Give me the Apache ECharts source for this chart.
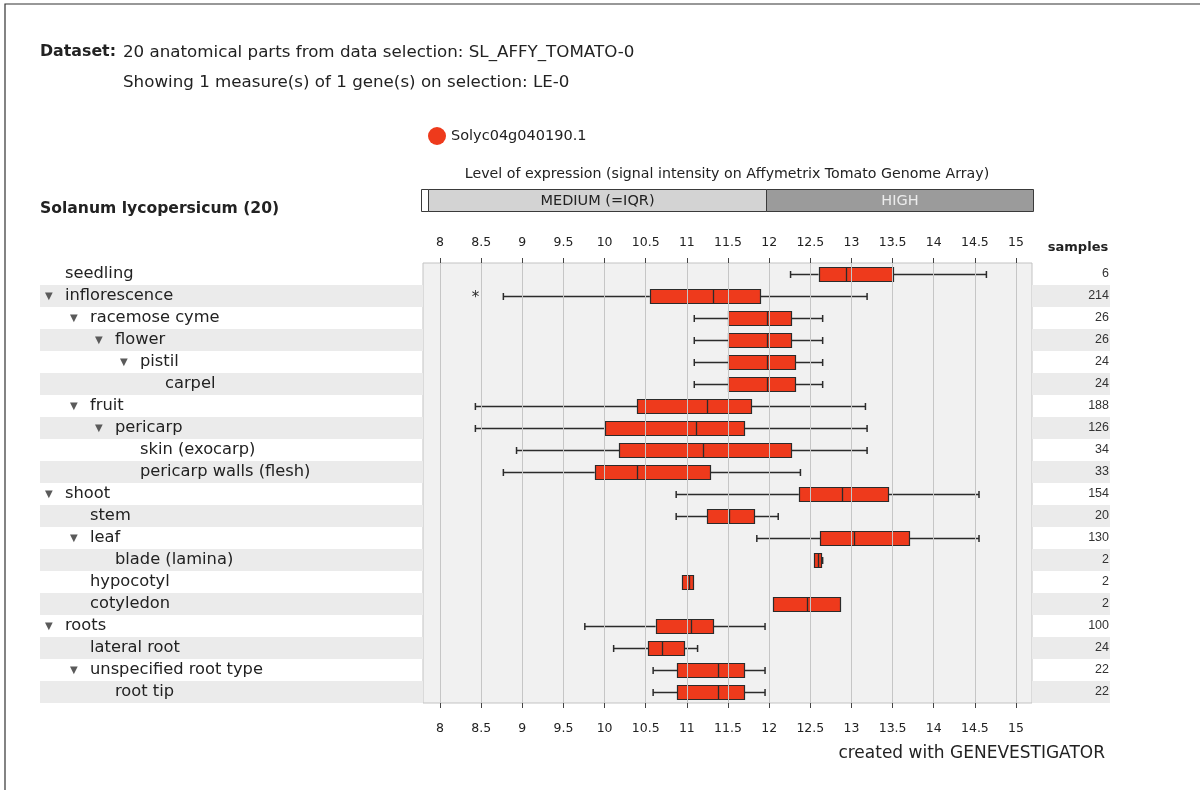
<!DOCTYPE html>
<html>
<head>
<meta charset="utf-8">
<title>Solyc04g040190.1 expression by anatomical part</title>
<script src="https://cdn.jsdelivr.net/npm/echarts@6/dist/echarts.min.js"></script>
<style>
  html, body { margin: 0; padding: 0; background: #ffffff; }
  #chart { width: 1200px; height: 790px; }
</style>
</head>
<body>
<div id="chart"></div>
<script>
// Anatomical parts in tree order, their depth and whether they have children
const tissues = [
  'seedling', 'inflorescence', 'racemose cyme', 'flower', 'pistil', 'carpel',
  'fruit', 'pericarp', 'skin (exocarp)', 'pericarp walls (flesh)',
  'shoot', 'stem', 'leaf', 'blade (lamina)', 'hypocotyl', 'cotyledon',
  'roots', 'lateral root', 'unspecified root type', 'root tip'
];
const depth = [0, 0, 1, 2, 3, 4, 1, 2, 3, 3, 0, 1, 1, 2, 1, 1, 0, 1, 1, 2];
const hasChildren = [false, true, true, true, true, false, true, true, false, false,
  true, false, true, false, false, false, true, false, true, false];
const samples = [6, 214, 26, 26, 24, 24, 188, 126, 34, 33, 154, 20, 130, 2, 2, 2, 100, 24, 22, 22];

// Box statistics (log2 signal intensity)
const whiskerLow = [12.26, 8.77, 11.09, 11.09, 11.09, 11.09, 8.43, 8.43, 8.93, 8.77,
  10.87, 10.87, 11.85, 12.54, 10.94, 12.05, 9.76, 10.11, 10.59, 10.59];
const quartile1 = [12.60, 10.55, 11.50, 11.50, 11.50, 11.50, 10.40, 10.01, 10.18, 9.88,
  12.36, 11.25, 12.62, 12.54, 10.94, 12.05, 10.62, 10.53, 10.88, 10.88];
const median = [12.93, 11.32, 11.97, 11.97, 11.97, 11.97, 11.24, 11.11, 11.20, 10.40,
  12.88, 11.51, 13.03, 12.59, 11.02, 12.46, 11.05, 10.70, 11.38, 11.38];
const quartile3 = [13.51, 11.89, 12.27, 12.27, 12.32, 12.32, 11.78, 11.69, 12.27, 11.28,
  13.44, 11.82, 13.70, 12.63, 11.07, 12.86, 11.32, 10.96, 11.69, 11.69];
const whiskerHigh = [14.64, 13.19, 12.65, 12.65, 12.65, 12.65, 13.17, 13.19, 13.19, 12.38,
  14.55, 12.11, 14.55, 12.65, 11.07, 12.86, 11.95, 11.13, 11.95, 11.95];
const outliers = [{ tissue: 'inflorescence', value: 8.43 }];

// Axis ticks
const tickValues = [8, 8.5, 9, 9.5, 10, 10.5, 11, 11.5, 12, 12.5, 13, 13.5, 14, 14.5, 15];

// Expression level bands
const bandNames = ['', 'MEDIUM (=IQR)', 'HIGH'];
const bandStart = [7.77, 7.85, 11.97];
const bandEnd = [7.85, 11.97, 15.21];
const bandFill = ['#ffffff', '#d3d3d3', '#9b9b9b'];
const bandText = ['#222222', '#222222', '#ececec'];

const geneName = 'Solyc04g040190.1';
const boxRed = '#ee3a1c';
const ink = '#2b2b2b';
const FONT = '"DejaVu Sans", Verdana, sans-serif';
const ARIAL = '"Liberation Sans", Arial, sans-serif';

const boxData = tissues.map((t, i) => [i, whiskerLow[i], quartile1[i], median[i], quartile3[i], whiskerHigh[i]]);
const outlierData = outliers.map(o => [o.value, tissues.indexOf(o.tissue)]);
const bandData = bandNames.map((n, i) => [bandStart[i], bandEnd[i], 0, i]);

const X_MIN = 7.7934, X_MAX = 15.194;
const ROW_TOP = 263, ROW_H = 440;

// rich styles for the indented tree labels
const rich = {
  t: { width: 20, fontSize: 10, color: '#5a5a5a', fontFamily: FONT },
  b: { width: 20, fontSize: 10 },
  n: { fontSize: 16.3, color: '#222222', fontFamily: FONT }
};
for (let l = 1; l <= 4; l++) rich['p' + l] = { width: 25 * l, fontSize: 10 };

const chart = echarts.init(document.getElementById('chart'), null, { renderer: 'canvas' });

const crisp = v => Math.round(v) + 0.5;

chart.setOption({
  animation: false,
  backgroundColor: '#ffffff',
  color: [boxRed],
  legend: {
    data: [geneName],
    left: 423,
    top: 122,
    icon: 'circle',
    itemWidth: 18,
    itemHeight: 18,
    itemGap: 6,
    itemStyle: { borderWidth: 0 },
    textStyle: { fontFamily: FONT, fontSize: 14.5, color: '#222222' }
  },
  grid: [
    // tree labels
    { left: 40, top: ROW_TOP, width: 383, height: ROW_H },
    // box plot area
    { left: 423, top: ROW_TOP, width: 609, height: ROW_H, show: true,
      backgroundColor: '#f1f1f1', borderColor: '#c3c3c3', borderWidth: 1 },
    // sample counts
    { left: 1032, top: ROW_TOP, width: 78, height: ROW_H },
    // expression level band
    { left: 421, top: 189, width: 612, height: 22 }
  ],
  xAxis: [
    { gridIndex: 0, type: 'value', show: false },
    { gridIndex: 1, type: 'value', min: X_MIN, max: X_MAX, position: 'bottom',
      axisLine: { show: false }, splitLine: { show: false },
      axisTick: { show: true, length: 5, inside: false, customValues: tickValues,
        lineStyle: { color: '#444444', width: 1 } },
      axisLabel: { customValues: tickValues, margin: 19, fontFamily: FONT, fontSize: 12.5, color: '#222222' } },
    { gridIndex: 1, type: 'value', min: X_MIN, max: X_MAX, position: 'top',
      axisLine: { show: false }, splitLine: { show: false },
      axisTick: { show: true, length: 5, inside: false, customValues: tickValues,
        lineStyle: { color: '#444444', width: 1 } },
      axisLabel: { customValues: tickValues, margin: 14, fontFamily: FONT, fontSize: 12.5, color: '#222222' } },
    { gridIndex: 2, type: 'value', show: false },
    { gridIndex: 3, type: 'value', min: 7.77, max: 15.21, show: false }
  ],
  yAxis: [
    { gridIndex: 0, type: 'category', data: tissues, inverse: true,
      axisLine: { show: false }, axisTick: { show: false },
      splitArea: { show: true, areaStyle: { color: ['rgba(255,255,255,0)', '#ebebeb'] } },
      axisLabel: {
        inside: true, margin: 5, interval: 0,
        formatter: (value, idx) => {
          const lvl = depth[idx];
          const pad = lvl > 0 ? '{p' + lvl + '| }' : '';
          const mark = hasChildren[idx] ? '{t|▼}' : '{b| }';
          return pad + mark + '{n|' + value + '}';
        },
        rich: rich
      } },
    { gridIndex: 1, type: 'category', data: tissues, inverse: true, show: false },
    { gridIndex: 2, type: 'category', data: tissues, inverse: true, position: 'right',
      axisLine: { show: false }, axisTick: { show: false },
      splitArea: { show: true, areaStyle: { color: ['rgba(255,255,255,0)', '#ebebeb'] } },
      axisLabel: { inside: true, margin: 1, interval: 0,
        formatter: (value, idx) => String(samples[idx]),
        fontFamily: ARIAL, fontSize: 12.5, color: '#333333' } },
    { gridIndex: 3, type: 'category', data: ['level'], show: false }
  ],
  graphic: [
    { type: 'rect', shape: { x: 5, y: 4, width: 1210, height: 800 },
      style: { fill: 'none', stroke: '#333333', lineWidth: 1.2 }, silent: true },
    { type: 'text', left: 40, top: 44,
      style: { text: 'Dataset:', font: 'bold 15.8px ' + FONT, fill: '#222222' } },
    { type: 'text', left: 123, top: 44,
      style: { text: '20 anatomical parts from data selection: SL_AFFY_TOMATO-0', font: '16.7px ' + FONT, fill: '#222222' } },
    { type: 'text', left: 123, top: 74,
      style: { text: 'Showing 1 measure(s) of 1 gene(s) on selection: LE-0', font: '16.7px ' + FONT, fill: '#222222' } },
    { type: 'text', left: 40, top: 201,
      style: { text: 'Solanum lycopersicum (20)', font: 'bold 15.6px ' + FONT, fill: '#222222' } },
    { type: 'text', x: 727, y: 174,
      style: { text: 'Level of expression (signal intensity on Affymetrix Tomato Genome Array)',
        font: '14.2px ' + FONT, fill: '#222222', align: 'center', verticalAlign: 'middle' } },
    { type: 'text', x: 1078, y: 248,
      style: { text: 'samples', font: 'bold 13px ' + FONT, fill: '#222222', align: 'center', verticalAlign: 'middle' } },
    { type: 'text', x: 1105, y: 754,
      style: { text: 'created with GENEVESTIGATOR', font: '17px ' + FONT, fill: '#222222', align: 'right', verticalAlign: 'middle' } }
  ],
  series: [
    // vertical reference lines at each tick
    {
      type: 'line', xAxisIndex: 1, yAxisIndex: 1, data: [], z: 1, silent: true,
      markLine: {
        silent: true, symbol: 'none', animation: false,
        label: { show: false },
        lineStyle: { color: '#c6c6c6', width: 1, type: 'solid' },
        data: tickValues.map(v => ({ xAxis: v }))
      }
    },
    // expression level band
    {
      type: 'custom', xAxisIndex: 4, yAxisIndex: 3, data: bandData, silent: true, z: 3,
      encode: { x: [0, 1], y: 2 },
      renderItem: (params, api) => {
        const i = api.value(3);
        const a = api.coord([api.value(0), 0]);
        const b = api.coord([api.value(1), 0]);
        const h = api.size([0, 1])[1];
        const x0 = crisp(a[0]), x1 = crisp(b[0]);
        const y0 = crisp(a[1] - h / 2), y1 = crisp(a[1] + h / 2);
        return {
          type: 'group',
          children: [
            { type: 'rect', shape: { x: x0, y: y0, width: x1 - x0, height: y1 - y0 },
              style: { fill: bandFill[i], stroke: '#3a3a3a', lineWidth: 1 } },
            { type: 'text', x: (x0 + x1) / 2, y: (y0 + y1) / 2 + 0.5,
              style: { text: bandNames[i], font: '14.5px ' + FONT, fill: bandText[i],
                align: 'center', verticalAlign: 'middle' } }
          ]
        };
      }
    },
    // box plots
    {
      name: geneName, type: 'custom', xAxisIndex: 1, yAxisIndex: 1, data: boxData, z: 4,
      itemStyle: { color: boxRed },
      encode: { x: [1, 2, 3, 4, 5], y: 0 },
      renderItem: (params, api) => {
        const row = api.value(0);
        const lo = api.coord([api.value(1), row]);
        const q1 = api.coord([api.value(2), row]);
        const md = api.coord([api.value(3), row]);
        const q3 = api.coord([api.value(4), row]);
        const hi = api.coord([api.value(5), row]);
        const bh = Math.round(api.size([0, 1])[1] * 0.62);
        const cy = crisp(lo[1]);
        const cap = 3.5;
        const line = { stroke: ink, lineWidth: 1.5 };
        const children = [];
        if (q1[0] - lo[0] > 0.5) {
          children.push({ type: 'line', shape: { x1: lo[0], y1: cy, x2: q1[0], y2: cy }, style: line });
          children.push({ type: 'line', shape: { x1: lo[0], y1: cy - cap, x2: lo[0], y2: cy + cap }, style: line });
        }
        if (hi[0] - q3[0] > 0.5) {
          children.push({ type: 'line', shape: { x1: q3[0], y1: cy, x2: hi[0], y2: cy }, style: line });
          children.push({ type: 'line', shape: { x1: hi[0], y1: cy - cap, x2: hi[0], y2: cy + cap }, style: line });
        }
        const bx = crisp(q1[0]), bw = Math.max(crisp(q3[0]) - bx, 2);
        children.push({ type: 'rect', shape: { x: bx, y: cy - bh / 2, width: bw, height: bh },
          style: { fill: boxRed, stroke: ink, lineWidth: 1.2 } });
        children.push({ type: 'line', shape: { x1: crisp(md[0]), y1: cy - bh / 2, x2: crisp(md[0]), y2: cy + bh / 2 },
          style: { stroke: ink, lineWidth: 1.3 } });
        return { type: 'group', children: children };
      }
    },
    // outliers
    {
      type: 'custom', xAxisIndex: 1, yAxisIndex: 1, data: outlierData, z: 4, silent: true,
      encode: { x: 0, y: 1 },
      renderItem: (params, api) => {
        const p = api.coord([api.value(0), api.value(1)]);
        return { type: 'text', x: p[0], y: p[1] + 2,
          style: { text: '*', font: '15px ' + FONT, fill: ink, align: 'center', verticalAlign: 'middle' } };
      }
    }
  ]
});
</script>
</body>
</html>
